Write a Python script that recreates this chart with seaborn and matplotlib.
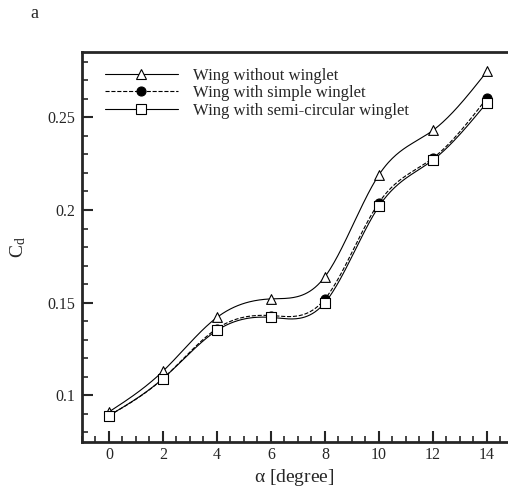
import numpy as np
import pandas as pd
import seaborn as sns
import matplotlib
matplotlib.use("Agg")
from matplotlib import pyplot as plt
from matplotlib.lines import Line2D
from matplotlib.ticker import MultipleLocator

# 数据
alpha = [0, 2, 4, 6, 8, 10, 12, 14]
cd_without = [0.091, 0.113, 0.142, 0.152, 0.164, 0.219, 0.243, 0.2748]
cd_simple = [0.089, 0.109, 0.136, 0.143, 0.152, 0.204, 0.228, 0.2604]
cd_semi = [0.089, 0.109, 0.135, 0.142, 0.150, 0.202, 0.227, 0.2580]
labels = ['Wing without winglet', 'Wing with simple winglet',
          'Wing with semi-circular winglet']


# 自然三次样条，画平滑曲线用
def spline(x, y, n=300):
    x = np.asarray(x, float)
    y = np.asarray(y, float)
    k = len(x)
    h = np.diff(x)
    A = np.zeros((k, k))
    b = np.zeros(k)
    A[0, 0] = A[-1, -1] = 1
    for i in range(1, k - 1):
        A[i, i - 1] = h[i - 1]
        A[i, i] = 2 * (h[i - 1] + h[i])
        A[i, i + 1] = h[i]
        b[i] = 6 * ((y[i + 1] - y[i]) / h[i] - (y[i] - y[i - 1]) / h[i - 1])
    m = np.linalg.solve(A, b)
    xs = np.linspace(x[0], x[-1], n)
    idx = np.clip(np.searchsorted(x, xs) - 1, 0, k - 2)
    x0, x1 = x[idx], x[idx + 1]
    hh = x1 - x0
    t0, t1 = x1 - xs, xs - x0
    ys = (m[idx] * t0 ** 3 + m[idx + 1] * t1 ** 3) / (6 * hh) \
        + (y[idx] / hh - m[idx] * hh / 6) * t0 + (y[idx + 1] / hh - m[idx + 1] * hh / 6) * t1
    return xs, ys


sns.set_theme(style="ticks")
plt.rcParams['font.family'] = ['Liberation Serif', 'DejaVu Serif']
plt.rcParams['mathtext.fontset'] = 'stix'

fig = plt.figure(figsize=(5.08, 4.92), dpi=100)
ax = fig.add_axes([0.1614, 0.1026, 0.837, 0.7917])

series = [cd_without, cd_simple, cd_semi]
styles = ['-', '--', '-']
markers = ['^', 'o', 's']
faces = ['white', 'black', 'white']
msizes = [7, 6.5, 6.5]

for ys_data, ls in zip(series, styles):
    xs, ys = spline(alpha, ys_data)
    curve = pd.DataFrame({'x': xs, 'y': ys})
    sns.lineplot(data=curve, x='x', y='y', ax=ax, color='black', lw=0.8,
                 linestyle=ls, sort=False, estimator=None)

for ys_data, mk, fc, ms in zip(series, markers, faces, msizes):
    pts = pd.DataFrame({'x': alpha, 'y': ys_data})
    sns.scatterplot(data=pts, x='x', y='y', ax=ax, marker=mk, s=ms ** 2,
                    facecolor=fc, edgecolor='black', linewidth=0.8, zorder=5)

handles = [Line2D([], [], color='black', lw=0.8, ls=ls, marker=mk, ms=ms,
                  mfc=fc, mec='black', mew=0.8)
           for ls, mk, fc, ms in zip(styles, markers, faces, msizes)]
ax.legend(handles, labels, loc='upper left', bbox_to_anchor=(0.03, 0.985),
          frameon=False, fontsize=12, handlelength=4.4, handletextpad=0.9,
          labelspacing=0.08, borderaxespad=0.2)

ax.set_xlim(-1, 14.75)
ax.set_ylim(0.075, 0.2853)
ax.xaxis.set_major_locator(MultipleLocator(2))
ax.xaxis.set_minor_locator(MultipleLocator(0.5))
ax.yaxis.set_major_locator(MultipleLocator(0.05))
ax.yaxis.set_minor_locator(MultipleLocator(0.01))
ax.set_yticks([0.1, 0.15, 0.2, 0.25])
ax.set_yticklabels(['0.1', '0.15', '0.2', '0.25'])
ax.tick_params(which='major', direction='in', length=8, width=1.5, labelsize=11.5)
ax.tick_params(axis='x', which='major', pad=4)
ax.tick_params(axis='y', which='major', pad=5)
ax.tick_params(which='minor', direction='in', length=4, width=1.2)
for s in ['left', 'bottom', 'top']:
    ax.spines[s].set_linewidth(2)
ax.spines['right'].set_visible(False)

ax.set_xlabel(r'$\mathregular{\alpha}$ [degree]', fontsize=14, labelpad=3)
ax.set_ylabel(r'C$_\mathregular{d}$', fontsize=14, labelpad=14)
fig.text(0.06, 0.99, 'a', fontsize=13, va='top')

fig.savefig('out.png', dpi=100)
